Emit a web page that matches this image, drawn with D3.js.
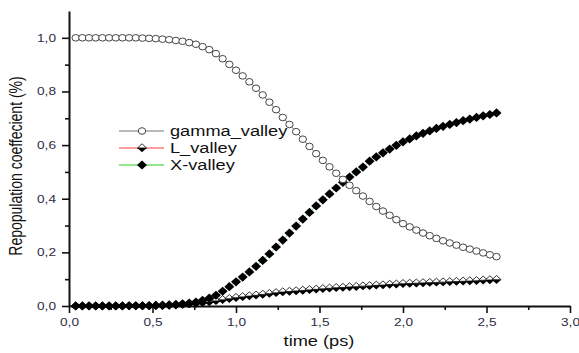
<!DOCTYPE html>
<html>
<head>
<script src="https://d3js.org/d3.v7.min.js"></script>
<style>
  body { margin: 0; background: #fff; }
  text { font-family: "Liberation Sans", Arial, sans-serif; }
</style>
</head>
<body>
<svg width="579" height="353"></svg>
<script>
// time (ps), one sample every 0.04 ps
const time = [0.04,0.08,0.12,0.16,0.20,0.24,0.28,0.32,0.36,0.40,0.44,0.48,0.52,0.56,0.60,0.64,
  0.68,0.72,0.76,0.80,0.84,0.88,0.92,0.96,1.00,1.04,1.08,1.12,1.16,1.20,1.24,1.28,
  1.32,1.36,1.40,1.44,1.48,1.52,1.56,1.60,1.64,1.68,1.72,1.76,1.80,1.84,1.88,1.92,
  1.96,2.00,2.04,2.08,2.12,2.16,2.20,2.24,2.28,2.32,2.36,2.40,2.44,2.48,2.52,2.56];

const gammaValley = [1.000,1.000,1.000,1.000,1.000,1.000,1.000,1.000,1.000,1.000,0.999,0.998,0.997,0.995,0.993,0.990,
  0.987,0.982,0.976,0.967,0.956,0.941,0.922,0.901,0.879,0.858,0.836,0.812,0.787,0.760,0.732,0.703,
  0.677,0.650,0.622,0.595,0.568,0.543,0.519,0.495,0.472,0.450,0.430,0.410,0.390,0.371,0.354,0.338,
  0.322,0.307,0.295,0.283,0.272,0.262,0.252,0.243,0.235,0.227,0.219,0.212,0.205,0.198,0.191,0.184];

const lValley = [0.000,0.000,0.000,0.000,0.000,0.000,0.000,0.000,0.000,0.000,0.000,0.001,0.001,0.001,0.002,0.003,
  0.005,0.007,0.009,0.012,0.015,0.019,0.023,0.027,0.031,0.034,0.037,0.040,0.043,0.046,0.049,0.052,
  0.054,0.056,0.058,0.060,0.062,0.064,0.066,0.068,0.069,0.071,0.072,0.074,0.075,0.077,0.078,0.080,
  0.081,0.083,0.084,0.085,0.086,0.087,0.088,0.089,0.090,0.091,0.092,0.093,0.094,0.096,0.097,0.098];

const xValley = [0.000,0.000,0.000,0.000,0.000,0.000,0.000,0.000,0.001,0.001,0.001,0.001,0.002,0.003,0.004,0.006,
  0.008,0.011,0.015,0.021,0.029,0.040,0.055,0.072,0.090,0.108,0.127,0.148,0.170,0.194,0.220,0.246,
  0.272,0.298,0.324,0.349,0.373,0.396,0.418,0.440,0.461,0.481,0.500,0.518,0.540,0.556,0.571,0.585,
  0.599,0.612,0.623,0.634,0.644,0.653,0.662,0.670,0.677,0.684,0.691,0.697,0.703,0.709,0.714,0.720];

const xTicks = [0, 0.5, 1.0, 1.5, 2.0, 2.5, 3.0];
const xMinor = [0.25, 0.75, 1.25, 1.75, 2.25, 2.75];
const yTicks = [0, 0.2, 0.4, 0.6, 0.8, 1.0];
const yMinor = [0.1, 0.3, 0.5, 0.7, 0.9];
const legendNames = ["gamma_valley", "L_valley", "X-valley"];

const svg = d3.select("svg");
const stretch = 1.3; // the picture's text is wide

const xScale = d3.scaleLinear().domain([0, 3]).range([69, 570]);
const yScale = d3.scaleLinear().domain([0, 1.1]).range([306, 11]);

const fmt = d => d3.format(".1f")(d).replace(".", ",");

function widen(sel) {
  sel.each(function () {
    const w = this.getComputedTextLength();
    d3.select(this).attr("textLength", w * stretch).attr("lengthAdjust", "spacingAndGlyphs");
  });
}

// axes
const xAxisG = svg.append("g").attr("transform", "translate(0,306)");
xAxisG.append("g")
  .call(d3.axisBottom(xScale).tickValues(xMinor).tickSize(4).tickSizeOuter(0).tickFormat(""))
  .call(g => g.select(".domain").remove());
xAxisG.append("g").attr("class", "xmajor")
  .call(d3.axisBottom(xScale).tickValues(xTicks).tickSize(7).tickSizeOuter(0).tickFormat(fmt));

const yAxisG = svg.append("g").attr("transform", "translate(69,0)");
yAxisG.append("g")
  .call(d3.axisLeft(yScale).tickValues(yMinor).tickSize(4).tickSizeOuter(0).tickFormat(""))
  .call(g => g.select(".domain").remove());
yAxisG.append("g").attr("class", "ymajor")
  .call(d3.axisLeft(yScale).tickValues(yTicks).tickSize(7).tickSizeOuter(0).tickFormat(fmt));

svg.selectAll(".tick line").attr("stroke", "#111").attr("stroke-width", 1.6);
svg.selectAll(".domain").attr("stroke", "#111").attr("stroke-width", 2);
svg.selectAll(".xmajor text").attr("font-size", 10.5).attr("fill", "#2c2c44").attr("dy", "0.75em").attr("y", 12);
svg.selectAll(".ymajor text").attr("font-size", 10.5).attr("fill", "#2c2c44").attr("x", -13);
widen(svg.selectAll(".xmajor text, .ymajor text"));

// axis titles
svg.append("text")
  .attr("x", 319).attr("y", 346)
  .attr("text-anchor", "middle").attr("font-size", 14).attr("fill", "#111")
  .text("time (ps)").call(widen);

svg.append("text")
  .attr("transform", "translate(22,166) scale(1.25,1) rotate(-90)")
  .attr("text-anchor", "middle").attr("font-size", 14).attr("fill", "#111")
  .text("Repopulation coeffecient (%)");

// series
const pts = vals => time.map((t, i) => [t, vals[i]]);
const line = d3.line().x(d => xScale(d[0])).y(d => yScale(d[1]));

const diamond = (w, h) => `M0,${-h}L${w},0L0,${h}L${-w},0Z`;
const halfTop = (w, h) => `M${-w},0L0,${-h}L${w},0Z`;
const halfBottom = (w, h) => `M${-w},0L0,${h}L${w},0Z`;

function drawL(g) {
  g.append("path").attr("d", halfBottom(4.6, 4.2)).attr("fill", "#000");
  g.append("path").attr("d", halfTop(4.6, 4.2)).attr("fill", "#fff").attr("stroke", "#000").attr("stroke-width", 0.8);
}
function drawX(g) {
  g.append("path").attr("d", diamond(5, 4.6)).attr("fill", "#000");
}
function drawGamma(g) {
  g.append("ellipse").attr("rx", 3.7).attr("ry", 3.3)
    .attr("fill", "#fff").attr("stroke", "#444").attr("stroke-width", 1);
}

const plot = svg.append("g");

plot.append("path").datum(pts(lValley)).attr("d", line)
  .attr("fill", "none").attr("stroke", "#ff3b3b").attr("stroke-width", 0.8);
plot.append("path").datum(pts(xValley)).attr("d", line)
  .attr("fill", "none").attr("stroke", "#22cc22").attr("stroke-width", 0.6);
plot.append("path").datum(pts(gammaValley)).attr("d", line)
  .attr("fill", "none").attr("stroke", "#777").attr("stroke-width", 1);

plot.selectAll(".lpt").data(pts(lValley)).enter().append("g").attr("class", "lpt")
  .attr("transform", d => `translate(${xScale(d[0])},${yScale(d[1])})`)
  .each(function () { drawL(d3.select(this)); });

plot.selectAll(".xpt").data(pts(xValley)).enter().append("g").attr("class", "xpt")
  .attr("transform", d => `translate(${xScale(d[0])},${yScale(d[1])})`)
  .each(function () { drawX(d3.select(this)); });

plot.selectAll(".gpt").data(pts(gammaValley)).enter().append("g").attr("class", "gpt")
  .attr("transform", d => `translate(${xScale(d[0])},${yScale(d[1])})`)
  .each(function () { drawGamma(d3.select(this)); });

// legend
const legendColors = ["#777", "#ff3b3b", "#22cc22"];
const legendDraw = [drawGamma, drawL, drawX];
const legend = svg.append("g");
legendNames.forEach((name, i) => {
  const yy = 131 + i * 17;
  legend.append("line").attr("x1", 119).attr("x2", 164).attr("y1", yy).attr("y2", yy)
    .attr("stroke", legendColors[i]).attr("stroke-width", 1);
  const s = legend.append("g").attr("transform", `translate(142,${yy})`);
  legendDraw[i](s);
  legend.append("text").attr("x", 170).attr("y", yy + 5)
    .attr("font-size", 14).attr("fill", "#111").text(name).call(widen);
});
</script>
</body>
</html>
